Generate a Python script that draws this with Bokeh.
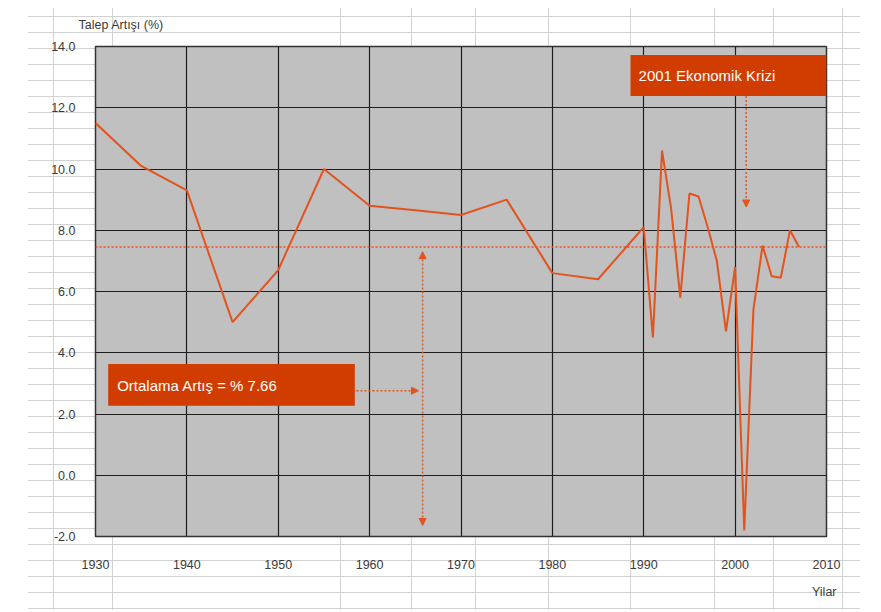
from bokeh.plotting import figure
from bokeh.models import (Range1d, FixedTicker, Span, BoxAnnotation, Label, Arrow,
                          NormalHead, Title)
from bokeh.embed import file_html
from bokeh.resources import INLINE

# ---- data ----
years = [1930, 1935, 1940, 1945, 1950, 1955, 1960, 1965, 1970, 1975, 1980, 1985,
         1990, 1991, 1992, 1993, 1994, 1995, 1996, 1997, 1998, 1999, 2000, 2001,
         2002, 2003, 2004, 2005, 2006, 2007]
growth = [11.5, 10.1, 9.3, 5.0, 6.7, 10.0, 8.8, 8.65, 8.5, 9.0, 6.6, 6.4,
          8.1, 4.5, 10.6, 8.7, 5.8, 9.2, 9.1, 8.1, 7.0, 4.7, 6.8, -1.8,
          5.4, 7.5, 6.5, 6.45, 8.0, 7.45]
avg_line = 7.45
avg_text = "Ortalama Artış = % 7.66"
crisis_text = "2001 Ekonomik Krizi"
y_title = "Talep Artışı (%)"
x_title = "Yilar"
x_ticks = [1930, 1940, 1950, 1960, 1970, 1980, 1990, 2000, 2010]
x_tick_labels = ["1930", "1940", "1950", "1960", "1970", "1980", "1990", "2000", "2010"]
y_ticks = [-2, 0, 2, 4, 6, 8, 10, 12, 14]
y_tick_labels = ["-2.0", "0.0", "2.0", "4.0", "6.0", "8.0", "10.0", "12.0", "14.0"]

ORANGE = "#E2531E"
BOX = "#D13C00"
FONT = "Liberation Sans"
TXT = "#3a3a3a"

W, H = 876, 610
p = figure(width=W, height=H, output_backend="svg", toolbar_location=None,
           x_range=Range1d(1930, 2010), y_range=Range1d(-2, 14),
           min_border_left=95, min_border_right=W - 95 - 731,
           min_border_top=45, min_border_bottom=H - 45 - 491)

p.background_fill_color = "#C0C0C0"
p.border_fill_color = None
p.border_fill_alpha = 0
p.outline_line_color = "#333333"
p.outline_line_width = 1.5

# axes
for ax in (p.xaxis, p.yaxis):
    ax.axis_line_color = None
    ax.major_tick_line_color = None
    ax.minor_tick_line_color = None
    ax.major_label_text_font = FONT
    ax.major_label_text_font_size = "12.5px"
    ax.major_label_text_color = TXT
p.xaxis.ticker = FixedTicker(ticks=x_ticks)
p.yaxis.ticker = FixedTicker(ticks=y_ticks)
p.xaxis.major_label_overrides = dict(zip(x_ticks, x_tick_labels))
p.yaxis.major_label_overrides = dict(zip(y_ticks, y_tick_labels))
p.xaxis.major_label_standoff = 17
p.yaxis.major_label_standoff = 14

p.xgrid.ticker = FixedTicker(ticks=x_ticks)
p.ygrid.ticker = FixedTicker(ticks=y_ticks)
p.grid.grid_line_color = "#1e1e1e"
p.grid.grid_line_width = 1.2

# axis titles (as titles, so they sit outside the frame)
p.add_layout(Title(text=y_title, align="left", offset=-17, standoff=30,
                   text_font=FONT, text_font_size="12.5px", text_font_style="normal",
                   text_color=TXT), "above")
p.add_layout(Title(text=x_title, align="right", offset=-10, standoff=23,
                   text_font=FONT, text_font_size="12.5px", text_font_style="normal",
                   text_color=TXT), "below")

# average line
p.add_layout(Span(location=avg_line, dimension="width", line_color=ORANGE,
                  line_width=1.5, line_dash="2 2"))

# series
p.line(years, growth, line_color=ORANGE, line_width=2)

# annotation boxes
p.add_layout(BoxAnnotation(left=1988.55, right=2010, bottom=12.385, top=13.72,
                           fill_color=BOX, fill_alpha=1, line_color=None))
p.add_layout(BoxAnnotation(left=1931.39, right=1958.38, bottom=2.27, top=3.63,
                           fill_color=BOX, fill_alpha=1, line_color=None))
p.add_layout(Label(x=1989.43, y=13.05, text=crisis_text, text_color="white",
                   text_font=FONT, text_font_size="15px",
                   text_baseline="middle", text_align="left"))
p.add_layout(Label(x=1932.37, y=2.93, text=avg_text, text_color="white",
                   text_font=FONT, text_font_size="15px",
                   text_baseline="middle", text_align="left"))

def head():
    return NormalHead(size=7, fill_color=ORANGE, line_color=ORANGE)

p.add_layout(Arrow(x_start=2001.21, y_start=12.385, x_end=2001.21, y_end=8.76,
                   end=head(), line_color=ORANGE, line_width=1.5, line_dash="2 2"))
p.add_layout(Arrow(x_start=1958.56, y_start=2.76, x_end=1965.35, y_end=2.76,
                   end=head(), line_color=ORANGE, line_width=1.5, line_dash="2 2"))
p.add_layout(Arrow(x_start=1965.8, y_start=-1.64, x_end=1965.8, y_end=7.3,
                   start=head(), end=head(), line_color=ORANGE, line_width=1.5,
                   line_dash="2 2"))

# spreadsheet-like background (decoration behind the chart)
LINE = "#d2d2d2"
col_x = [53, 112, 340, 411, 475, 548, 630, 714, 773, 842]
stops = ["rgba(0,0,0,0) 0px"]
for cx in col_x:
    stops.append(f"rgba(0,0,0,0) {cx}px, {LINE} {cx}px, {LINE} {cx+1}px, rgba(0,0,0,0) {cx+1}px")
vert = "linear-gradient(to right, " + ", ".join(stops) + ")"
horiz = (f"repeating-linear-gradient(to bottom, {LINE} 0px, {LINE} 1px, "
         f"rgba(0,0,0,0) 1px, rgba(0,0,0,0) 16px)")
p.styles = {
    "background-image": f"{horiz}, {vert}",
    "background-size": f"832px {H - 16}px, 100% {H - 8}px",
    "background-position": "28px 16px, 0px 8px",
    "background-repeat": "no-repeat, no-repeat",
}

open("out.html", "w").write(file_html(p, INLINE))
